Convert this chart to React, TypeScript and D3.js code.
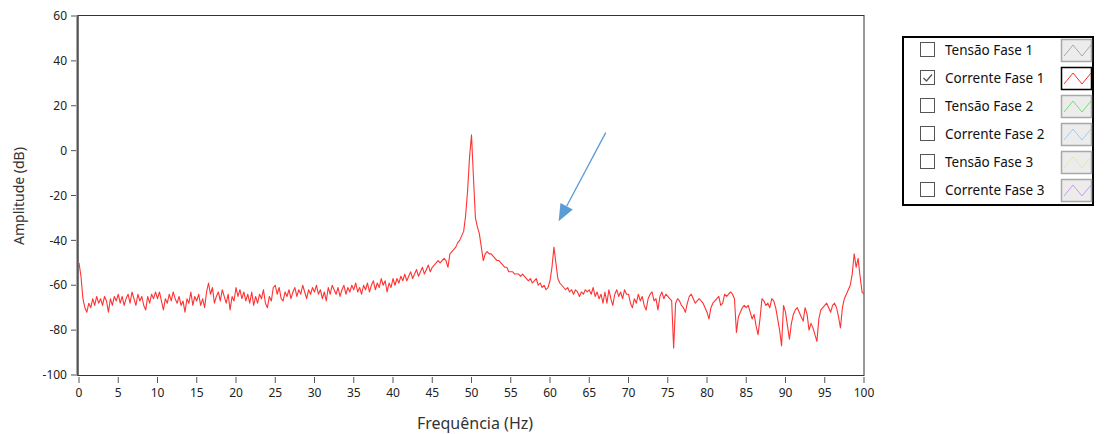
import React from 'react';
import * as d3 from 'd3';

// Amplitude spectrum (dB) of "Corrente Fase 1", sampled every 0.25 Hz from 0 to 100 Hz
const amplitudeDb: number[] = [
  -50,-56,-66,-70,-72,-68,-70,-66,-69,-65,-68,-66,-69,-65,-67,-72,-66,-69,-65,-67,
  -64,-68,-65,-69,-66,-64,-68,-63,-66,-69,-64,-67,-65,-69,-71,-65,-68,-64,-66,-63,
  -66,-63,-67,-71,-66,-68,-64,-67,-63,-66,-68,-65,-69,-67,-72,-66,-68,-63,-69,-65,
  -67,-64,-69,-66,-70,-63,-59,-64,-61,-68,-65,-63,-67,-62,-65,-68,-64,-71,-65,-67,
  -61,-65,-62,-66,-63,-67,-64,-68,-63,-69,-65,-68,-64,-66,-62,-68,-70,-65,-67,-61,
  -60,-64,-61,-66,-67,-63,-65,-62,-66,-63,-61,-65,-62,-64,-60,-63,-66,-62,-64,-61,
  -63,-60,-64,-62,-66,-63,-67,-61,-64,-60,-62,-64,-61,-65,-62,-60,-64,-61,-63,-60,
  -62,-59,-63,-61,-64,-60,-62,-59,-63,-60,-58,-62,-59,-61,-57,-60,-58,-63,-59,-61,
  -57,-60,-57,-59,-56,-58,-55,-58,-56,-54,-57,-55,-53,-56,-54,-52,-55,-53,-51,-54,
  -52,-51,-50,-49,-50,-49,-48,-49,-52,-46,-45,-44,-43,-41,-40,-38,-36,-29,-18,-3,
  7,-12,-30,-34,-37,-43,-49,-46,-45,-46,-46,-47,-48,-49,-49,-50,-51,-52,-52,-54,
  -54,-54,-55,-55,-55,-56,-55,-56,-57,-58,-57,-59,-58,-57,-60,-59,-61,-60,-62,-61,
  -58,-52,-43,-50,-57,-59,-60,-61,-62,-61,-63,-62,-64,-62,-63,-65,-63,-64,-62,-63,
  -62,-64,-61,-65,-63,-66,-64,-68,-63,-68,-62,-66,-69,-64,-62,-65,-63,-66,-62,-64,
  -64,-68,-70,-66,-68,-64,-67,-65,-69,-71,-66,-64,-63,-67,-66,-71,-65,-63,-66,-64,
  -65,-66,-67,-88,-68,-66,-67,-69,-70,-72,-68,-65,-64,-66,-68,-67,-66,-67,-68,-70,
  -72,-75,-70,-68,-67,-66,-65,-69,-68,-64,-65,-64,-63,-64,-66,-81,-74,-72,-70,-69,
  -70,-69,-72,-75,-73,-78,-82,-75,-66,-67,-69,-68,-70,-66,-67,-70,-75,-80,-87,-69,
  -72,-78,-84,-77,-73,-71,-70,-72,-74,-76,-70,-73,-80,-77,-79,-82,-85,-75,-71,-70,
  -69,-68,-70,-72,-69,-68,-70,-74,-79,-70,-66,-64,-62,-60,-55,-46,-52,-48,-56,-63,
  -64,
];
const freqStepHz = 0.25;

const xTicks = [0, 5, 10, 15, 20, 25, 30, 35, 40, 45, 50, 55, 60, 65, 70, 75, 80, 85, 90, 95, 100];
const yTicks = [60, 40, 20, 0, -20, -40, -60, -80, -100];

const legendLabels = ['Tensão Fase 1', 'Corrente Fase 1', 'Tensão Fase 2', 'Corrente Fase 2', 'Tensão Fase 3', 'Corrente Fase 3'];
const legendColors = ['#a8a8a8', '#ff2a2a', '#6fe06f', '#9cd0f0', '#d8eea8', '#cc99ee'];
const legendChecked = [false, true, false, false, false, false];

// annotation arrow (Hz, dB)
const arrowStart: [number, number] = [67.1, 8];
const arrowTip: [number, number] = [61.1, -31.5];

const FONT = "'Noto Sans', 'Open Sans', sans-serif";

export default function App() {
  const W = 1107, H = 434;
  const x = d3.scaleLinear().domain([0, 100]).range([79, 864]);
  const y = d3.scaleLinear().domain([-100, 60]).range([375, 16]);

  const pts: [number, number][] = amplitudeDb.map((v, i) => [i * freqStepHz, v]);
  const line = d3.line<[number, number]>().x(d => x(d[0])).y(d => y(d[1]));

  const ax1 = x(arrowStart[0]), ay1 = y(arrowStart[1]);
  const ax2 = x(arrowTip[0]), ay2 = y(arrowTip[1]);
  const ang = Math.atan2(ay2 - ay1, ax2 - ax1);
  const headLen = 17, headW = 7;
  const bx = ax2 - headLen * Math.cos(ang), by = ay2 - headLen * Math.sin(ang);
  const head = [
    [ax2, ay2],
    [bx + headW * Math.sin(ang), by - headW * Math.cos(ang)],
    [bx - headW * Math.sin(ang), by + headW * Math.cos(ang)],
  ].map(p => p.join(',')).join(' ');

  const lgX = 903, lgY = 37, lgW = 190, lgH = 168;
  const rowY0 = 50, rowStep = 28;

  return (
    <svg width={W} height={H} style={{ position: 'absolute', left: 0, top: 0, background: '#fff' }}>
      <rect x={78} y={15.5} width={786} height={360} fill="#fff" stroke="#333" strokeWidth={1} />
      <line x1={77.5} x2={77.5} y1={15} y2={376} stroke="#555" strokeWidth={2} />

      {yTicks.map(t => (
        <g key={'y' + t}>
          <line x1={71} x2={76} y1={y(t)} y2={y(t)} stroke="#555" strokeWidth={1} />
          <text x={67} y={y(t)} dy="0.35em" textAnchor="end" fontFamily={FONT} fontSize={12} fill="#222">{t}</text>
        </g>
      ))}
      {xTicks.map(t => (
        <g key={'x' + t}>
          <line x1={x(t)} x2={x(t)} y1={377} y2={383} stroke="#555" strokeWidth={1} />
          <text x={x(t)} y={397} textAnchor="middle" fontFamily={FONT} fontSize={12} fill="#222">{t}</text>
        </g>
      ))}

      <text x={475} y={429} textAnchor="middle" fontFamily={FONT} fontSize={16} fill="#333">Frequência (Hz)</text>
      <text transform={`translate(24,196) rotate(-90)`} textAnchor="middle" fontFamily={FONT} fontSize={14} fill="#333">Amplitude (dB)</text>

      <path d={line(pts) || ''} fill="none" stroke="#ff3333" strokeWidth={1.1} strokeLinejoin="round" />

      <line x1={ax1} y1={ay1} x2={bx} y2={by} stroke="#5b9bd5" strokeWidth={1.3} />
      <polygon points={head} fill="#5b9bd5" />

      <rect x={lgX} y={lgY} width={lgW} height={lgH} fill="#fff" stroke="#000" strokeWidth={2} />
      {legendLabels.map((lab, i) => {
        const cy = rowY0 + i * rowStep;
        const sx = 1061, sw = 30, sh = 22, sy = cy - 11;
        const sel = legendChecked[i];
        return (
          <g key={lab}>
            <rect x={920.5} y={cy - 7.5} width={14} height={14} fill="#fff" stroke="#555" strokeWidth={1} />
            {sel && <polyline points={`${923.5},${cy} ${926.5},${cy + 3} ${932},${cy - 3.5}`} fill="none" stroke="#555" strokeWidth={1.3} />}
            <text x={945} y={cy} dy="0.35em" fontFamily={FONT} fontSize={13.5} fill="#111">{lab}</text>
            <rect x={sx + 0.5} y={sy + 0.5} width={sw} height={sh} fill={sel ? '#fff' : '#ececec'} stroke={sel ? '#000' : '#a8a8a8'} strokeWidth={1.5} />
            <polyline points={`${sx + 3},${sy + 17} ${sx + 12},${sy + 6} ${sx + 21},${sy + 17} ${sx + 30},${sy + 6}`} fill="none" stroke={legendColors[i]} strokeWidth={1} />
          </g>
        );
      })}
    </svg>
  );
}
